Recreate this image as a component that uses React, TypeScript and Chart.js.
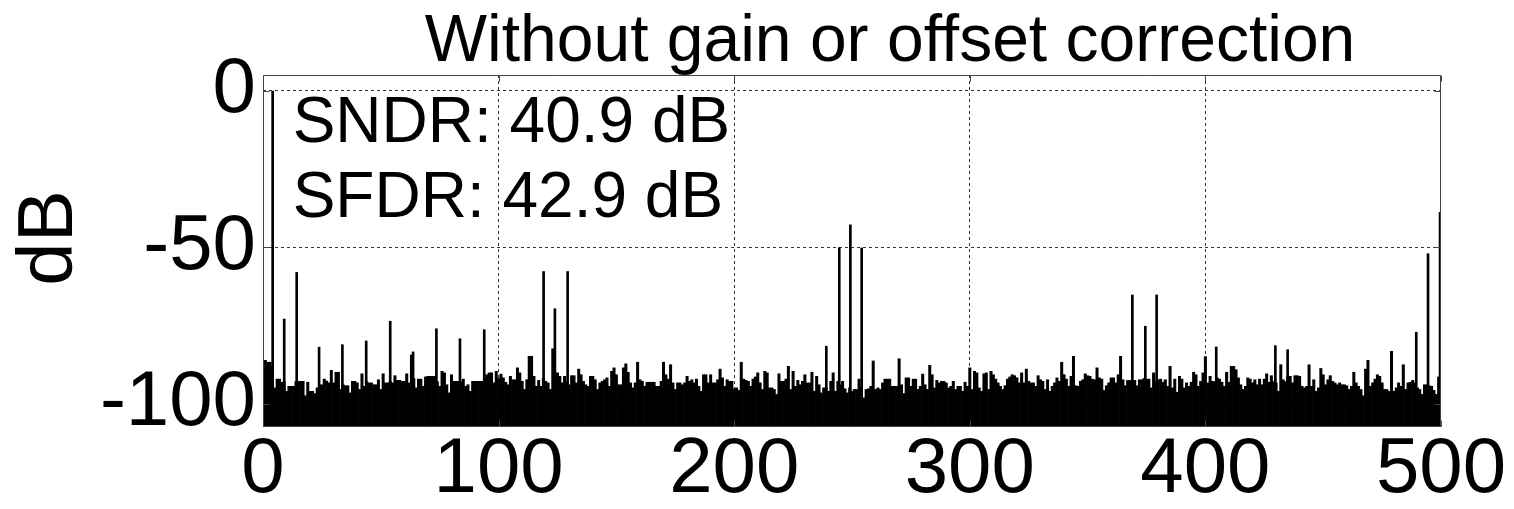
import React, { useEffect, useRef } from "react";
import { Chart, registerables } from "chart.js";

Chart.register(...registerables);

const TITLE = "Without gain or offset correction";
const Y_LABEL = "dB";
const ANNOTATIONS = ["SNDR: 40.9 dB", "SFDR: 42.9 dB"];
const X_TICKS = [0, 100, 200, 300, 400, 500];
const Y_TICKS = [-100, -50, 0];
const X_MIN = 0;
const X_MAX = 500;
const Y_MIN = -107.5;
const Y_MAX = 5;
const FLOOR = -130;

// Noise floor, one value per bin (bin index = frequency), in dB
const noiseDb = [
  -88.6, -86.2, -86.8, -86.8, -88.0, -95.0, -92.2, -92.2, -93.2, -93.0,
  -96.1, -94.5, -94.5, -94.5, -93.0, -92.9, -92.9, -92.9, -97.5, -93.2,
  -96.1, -96.1, -96.8, -95.0, -94.0, -94.0, -92.2, -92.8, -93.4, -89.4,
  -93.4, -90.0, -90.0, -95.5, -94.0, -94.3, -94.3, -96.6, -92.9, -92.9,
  -93.4, -95.5, -90.5, -94.5, -93.0, -93.4, -93.4, -94.0, -94.0, -92.4,
  -95.5, -90.5, -93.4, -93.4, -93.0, -93.4, -91.1, -92.6, -92.6, -92.9,
  -92.9, -90.5, -93.4, -84.5, -92.0, -95.0, -92.2, -92.2, -94.5, -91.5,
  -91.3, -91.3, -91.3, -91.3, -93.0, -94.5, -89.7, -90.2, -94.0, -96.6,
  -90.8, -92.9, -92.9, -92.9, -93.0, -92.2, -94.5, -94.0, -96.1, -92.9,
  -92.9, -92.9, -92.9, -92.9, -92.0, -90.8, -90.2, -90.2, -93.4, -89.7,
  -92.0, -90.6, -91.8, -93.2, -94.0, -91.3, -92.4, -92.4, -88.6, -90.2,
  -92.9, -95.5, -92.4, -84.9, -84.9, -91.3, -94.5, -92.6, -94.5, -92.0,
  -92.9, -93.4, -95.5, -82.5, -92.0, -90.2, -91.3, -93.4, -91.3, -93.0,
  -94.0, -91.1, -91.1, -93.4, -89.0, -90.8, -92.9, -94.0, -94.5, -91.3,
  -91.3, -92.4, -95.5, -93.4, -92.9, -92.4, -91.8, -94.5, -89.7, -88.6,
  -90.8, -94.0, -94.0, -88.6, -87.3, -90.0, -93.4, -95.0, -93.4, -86.8,
  -92.4, -92.9, -94.5, -93.2, -93.2, -93.2, -93.2, -94.5, -94.5, -92.9,
  -86.8, -90.8, -92.2, -87.6, -93.4, -95.5, -93.4, -93.4, -94.0, -93.4,
  -91.3, -92.9, -92.4, -93.4, -92.2, -94.5, -96.1, -90.8, -90.8, -93.4,
  -90.8, -93.4, -93.4, -92.4, -89.0, -91.8, -94.5, -92.4, -92.9, -92.9,
  -95.3, -95.0, -95.8, -86.8, -92.2, -92.6, -92.9, -94.5, -92.2, -91.5,
  -90.2, -93.4, -95.5, -89.7, -90.2, -95.0, -95.0, -95.5, -97.1, -90.5,
  -92.9, -92.9, -92.2, -88.1, -95.5, -89.7, -94.5, -92.6, -94.0, -92.9,
  -90.8, -93.4, -93.4, -90.0, -96.1, -91.3, -94.0, -96.6, -95.0, -95.0,
  -96.1, -92.9, -90.2, -96.1, -92.9, -94.0, -92.9, -95.3, -96.6, -95.0,
  -96.1, -95.5, -95.5, -92.2, -95.0, -98.2, -95.5, -95.3, -94.5, -86.4,
  -95.5, -95.0, -95.5, -93.4, -92.2, -92.2, -92.2, -94.5, -94.5, -94.5,
  -85.7, -94.0, -96.8, -91.8, -91.8, -94.5, -92.2, -92.2, -95.5, -94.5,
  -90.6, -94.0, -95.5, -87.8, -90.8, -95.0, -92.6, -93.4, -92.9, -92.9,
  -93.4, -95.0, -94.5, -92.9, -95.5, -94.5, -94.5, -96.1, -93.2, -94.5,
  -88.6, -95.5, -89.7, -90.2, -95.0, -96.1, -90.5, -90.2, -95.5, -89.7,
  -90.8, -92.2, -93.4, -94.5, -95.5, -94.3, -92.2, -91.5, -90.8, -91.1,
  -91.8, -93.4, -90.2, -93.4, -89.0, -92.9, -93.4, -93.4, -94.5, -91.1,
  -92.4, -92.9, -95.5, -92.4, -96.1, -94.5, -93.4, -91.8, -92.9, -86.8,
  -90.8, -92.2, -94.5, -91.3, -84.9, -94.3, -94.5, -92.9, -92.4, -90.5,
  -91.1, -91.3, -92.2, -92.4, -88.6, -91.8, -92.2, -95.8, -94.3, -93.4,
  -91.8, -91.8, -93.4, -90.8, -84.9, -92.4, -94.3, -92.6, -92.6, -93.0,
  -92.6, -94.3, -92.4, -92.4, -92.0, -92.2, -92.2, -95.0, -90.2, -93.0,
  -92.4, -92.2, -93.2, -92.4, -94.5, -88.1, -95.0, -92.2, -96.4, -91.3,
  -92.2, -95.0, -93.4, -94.5, -93.2, -90.0, -90.8, -94.5, -92.9, -90.2,
  -85.0, -93.4, -91.3, -92.9, -93.0, -91.8, -92.2, -93.2, -94.5, -90.0,
  -93.2, -88.1, -88.1, -89.2, -91.8, -94.0, -95.5, -94.5, -91.8, -92.2,
  -93.4, -92.4, -94.0, -92.2, -94.0, -92.2, -90.5, -93.2, -91.1, -93.0,
  -93.4, -96.1, -87.6, -92.4, -93.0, -91.3, -91.3, -93.4, -91.1, -91.1,
  -91.3, -94.5, -95.0, -94.5, -87.6, -94.5, -92.4, -96.1, -95.0, -88.8,
  -90.8, -94.0, -92.4, -91.1, -92.9, -93.4, -94.0, -93.4, -94.0, -94.0,
  -94.3, -95.5, -94.5, -90.0, -93.4, -94.5, -95.5, -97.5, -89.0, -86.2,
  -94.5, -93.4, -92.2, -90.8, -91.3, -93.4, -95.5, -95.5, -96.1, -83.3,
  -96.1, -95.0, -93.4, -94.5, -87.6, -95.5, -93.4, -93.2, -92.6, -93.4,
  -95.0, -95.5, -97.1, -94.0, -94.0, -94.3, -94.5, -95.8, -97.1, -91.5,
];

// Signal and spurious tones (frequency, dB)
const spurFreq = [
  4.1, 9.0, 14.3, 23.8, 33.7, 43.8, 54.0, 63.7, 73.6, 83.6, 93.9,
  119.1, 123.9, 129.3, 239.1, 244.6, 249.3, 254.1,
  369.0, 374.5, 379.3, 404.6, 429.7, 434.9, 489.5, 494.5, 499.6,
];
const spurDb = [
  0.0, -73.0, -58.1, -82.0, -81.2, -80.0, -73.7, -83.5, -76.1, -79.3, -76.4,
  -57.8, -69.7, -57.8, -81.7, -50.2, -42.9, -50.3,
  -65.3, -75.3, -65.3, -81.9, -81.5, -82.8, -77.2, -52.1, -38.9,
];

const FONT = '"Liberation Sans", Arial, Helvetica, sans-serif';
const BOX_COLOR = "#444444";
const GRID_COLOR = "#333333";

const decorPlugin = {
  id: "decor",
  afterDatasetsDraw(chart: any) {
    const { ctx, chartArea: a, scales } = chart;
    const L = Math.round(a.left) + 0.5;
    const R = Math.round(a.right) - 0.5;
    const T = Math.round(a.top) + 0.5;
    const B = Math.round(a.bottom) - 0.5;
    ctx.save();
    ctx.strokeStyle = BOX_COLOR;
    ctx.lineWidth = 1;
    ctx.setLineDash([]);
    ctx.beginPath();
    ctx.rect(L, T, R - L, B - T);
    const tl = 6;
    for (const v of X_TICKS) {
      const px = Math.round(scales.x.getPixelForValue(v)) + 0.5;
      ctx.moveTo(px, T);
      ctx.lineTo(px, T + tl);
      ctx.moveTo(px, B);
      ctx.lineTo(px, B - tl);
    }
    for (const v of Y_TICKS) {
      const py = Math.round(scales.y.getPixelForValue(v)) + 0.5;
      ctx.moveTo(L, py);
      ctx.lineTo(L + tl, py);
      ctx.moveTo(R, py);
      ctx.lineTo(R - tl, py);
    }
    ctx.stroke();
    ctx.restore();
  },
  afterDraw(chart: any) {
    const { ctx, scales } = chart;
    ctx.save();
    ctx.fillStyle = "#000";
    // title
    ctx.font = `66px ${FONT}`;
    ctx.textAlign = "center";
    ctx.textBaseline = "alphabetic";
    ctx.fillText(TITLE, 890, 61);
    // annotations
    ctx.font = `64px ${FONT}`;
    ctx.textAlign = "left";
    const ax = scales.x.getPixelForValue(12.6);
    ctx.fillText(ANNOTATIONS[0], ax, 142);
    ctx.fillText(ANNOTATIONS[1], ax, 217);
    // y label
    ctx.font = `78px ${FONT}`;
    ctx.translate(50, 238);
    ctx.rotate(-Math.PI / 2);
    ctx.textAlign = "center";
    ctx.textBaseline = "middle";
    ctx.fillText(Y_LABEL, 0, 0);
    ctx.restore();
  },
};

export default function App() {
  const canvasRef = useRef<HTMLCanvasElement | null>(null);

  useEffect(() => {
    if (!canvasRef.current) return;
    const interior = (v: number, lo: number, hi: number) =>
      v > lo && v < hi ? GRID_COLOR : "rgba(0,0,0,0)";
    const chart = new Chart(canvasRef.current, {
      type: "bar",
      data: {
        datasets: [
          {
            label: "spurs",
            data: spurFreq.map((f, i) => ({ x: f, y: [FLOOR, spurDb[i]] })),
            backgroundColor: "#000",
            borderWidth: 0,
            barThickness: 2,
            grouped: false,
            xAxisID: "x2",
            clip: 0,
            order: 1,
          } as any,
          {
            label: "noise",
            data: noiseDb.map((v, i) => ({ x: i, y: [FLOOR, v] })),
            backgroundColor: "#000",
            borderWidth: 0,
            barPercentage: 1,
            categoryPercentage: 1,
            grouped: false,
            xAxisID: "x",
            clip: 0,
            order: 2,
          } as any,
        ],
      },
      options: {
        animation: false,
        responsive: true,
        maintainAspectRatio: false,
        devicePixelRatio: 1,
        events: [],
        layout: { padding: { left: 0, top: 75, right: 73, bottom: 0 } },
        plugins: {
          legend: { display: false },
          title: { display: false },
          tooltip: { enabled: false },
        },
        scales: {
          x: {
            type: "linear",
            min: X_MIN,
            max: X_MAX,
            offset: false,
            afterBuildTicks: (s: any) => {
              s.ticks = X_TICKS.map((v) => ({ value: v }));
            },
            afterFit: (s: any) => {
              s.height = 82;
            },
            ticks: {
              color: "#000",
              font: { family: FONT, size: 78, lineHeight: 1 },
              padding: 4,
              maxRotation: 0,
              autoSkip: false,
            },
            grid: {
              offset: false,
              drawTicks: false,
              lineWidth: 1,
              color: (c: any) => interior(c.tick ? c.tick.value : 0, X_MIN, X_MAX),
            },
            border: { display: false, dash: [3, 3] },
          } as any,
          x2: {
            type: "linear",
            min: X_MIN,
            max: X_MAX,
            offset: false,
            display: false,
            grid: { offset: false },
          } as any,
          y: {
            type: "linear",
            min: Y_MIN,
            max: Y_MAX,
            afterBuildTicks: (s: any) => {
              s.ticks = Y_TICKS.map((v) => ({ value: v }));
            },
            afterFit: (s: any) => {
              s.width = 263;
            },
            ticks: {
              color: "#000",
              font: { family: FONT, size: 78, lineHeight: 1 },
              padding: 7,
              autoSkip: false,
            },
            grid: {
              drawTicks: false,
              lineWidth: 1,
              color: (c: any) => interior(c.tick ? c.tick.value : 0, Y_MIN, Y_MAX),
            },
            border: { display: false, dash: [3, 3] },
          } as any,
        },
      } as any,
      plugins: [decorPlugin],
    });
    return () => chart.destroy();
  }, []);

  return (
    <div
      style={{
        position: "absolute",
        left: 0,
        top: 0,
        width: 1514,
        height: 509,
        background: "#fff",
      }}
    >
      <canvas ref={canvasRef} />
    </div>
  );
}
